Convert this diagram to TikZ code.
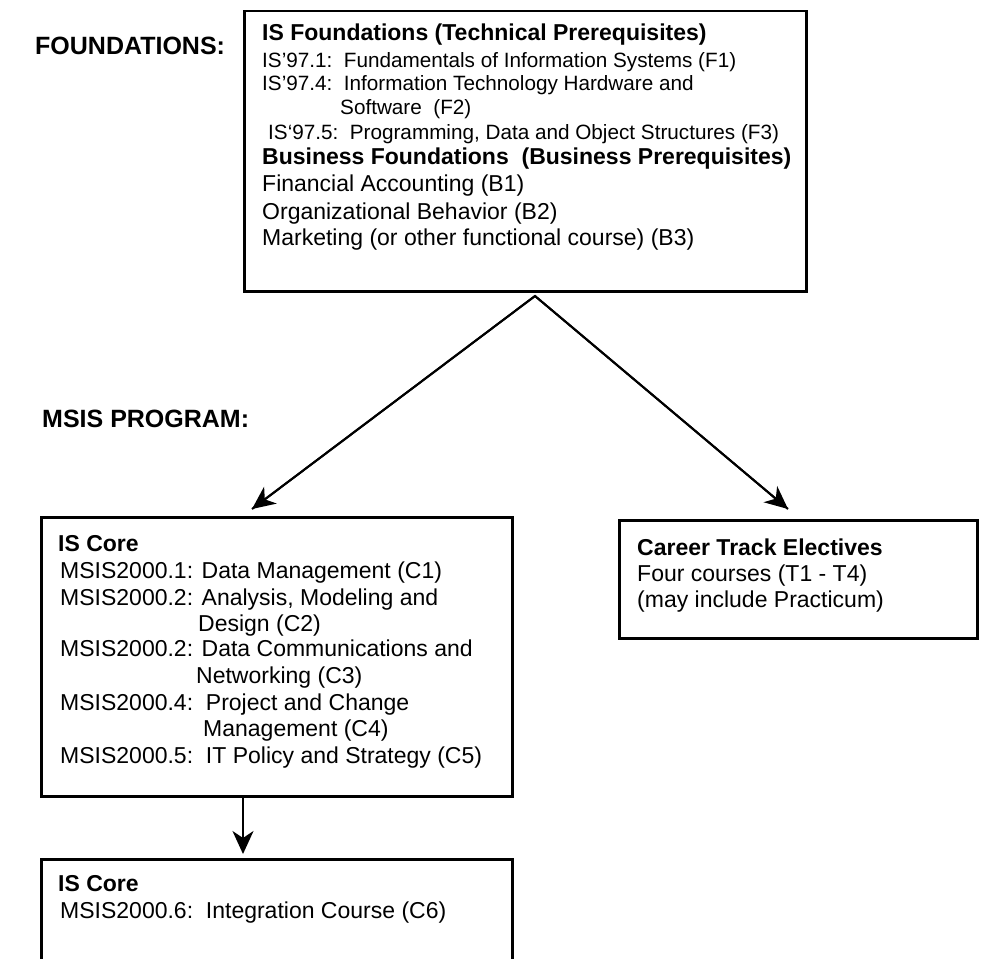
\documentclass[tikz,border=0pt]{standalone}
\usepackage{fontspec}
\setmainfont{Liberation Sans}
\usetikzlibrary{arrows.meta}
\begin{document}
\begin{tikzpicture}[x=1pt,y=-1pt,
  box/.style={draw, line width=2.5pt, inner sep=0pt, anchor=north west},
  txt/.style={anchor=base west, inner sep=0pt, font=\fontsize{23}{27}\selectfont},
  sm/.style={anchor=base west, inner sep=0pt, font=\fontsize{20.7}{24}\selectfont},
  hd/.style={anchor=base west, inner sep=0pt, font=\fontsize{23}{27}\selectfont\bfseries},
  lbl/.style={anchor=base west, inner sep=0pt, font=\fontsize{25}{30}\selectfont\bfseries},
  arr/.style={line width=2pt, -{Stealth[length=23pt,width=21pt,inset=7pt]}}]
\useasboundingbox (0,0) rectangle (981,958);

% boxes
\node[box, minimum width=562pt, minimum height=280pt] (found) at (243,10) {};
\node[box, minimum width=471pt, minimum height=279pt] (core) at (40,516) {};
\node[box, minimum width=358pt, minimum height=118pt] (career) at (618,519) {};
\node[box, minimum width=471pt, minimum height=150pt] (core6) at (40,858) {};

% side labels
\node[lbl] (lf) at (35,54) {FOUNDATIONS:};
\node[lbl] (lm) at (42,427) {MSIS PROGRAM:};

% foundations text
\node[hd] (f0) at (262,41) {IS Foundations (Technical Prerequisites)};
\node[sm] (f1) at (262,67.5) {IS’97.1:\ \ Fundamentals of Information Systems (F1)};
\node[sm] (f2) at (262,90.5) {IS’97.4:\ \ Information Technology Hardware and};
\node[sm] (f2b) at (340,114.5) {Software\ \ (F2)};
\node[sm] (f3) at (268,139.5) {IS‘97.5:\ \ Programming, Data and Object Structures (F3)};
\node[hd] (b0) at (262,164) {Business Foundations\ \ (Business Prerequisites)};
\node[txt] (b1) at (262,191) {Financial Accounting (B1)};
\node[txt] (b2) at (262,219) {Organizational Behavior (B2)};
\node[txt] (b3) at (262,245) {Marketing (or other functional course) (B3)};

% IS core text
\node[hd] (c0) at (58,551) {IS Core};
\node[txt] (c1) at (60,578) {MSIS2000.1: Data Management (C1)};
\node[txt] (c2) at (60,605) {MSIS2000.2: Analysis, Modeling and};
\node[txt] (c2b) at (198,631) {Design (C2)};
\node[txt] (c3) at (60,656) {MSIS2000.2: Data Communications and};
\node[txt] (c3b) at (196,683) {Networking (C3)};
\node[txt] (c4) at (60,710) {MSIS2000.4:\ \ Project and Change};
\node[txt] (c4b) at (203,736) {Management (C4)};
\node[txt] (c5) at (60,763) {MSIS2000.5:\ \ IT Policy and Strategy (C5)};

% career text
\node[hd] (t0) at (637,555) {Career Track Electives};
\node[txt] (t1) at (637,581) {Four courses (T1 - T4)};
\node[txt] (t2) at (637,607) {(may include Practicum)};

% IS core 6 text
\node[hd] (d0) at (58,891) {IS Core};
\node[txt] (d1) at (60,918) {MSIS2000.6:\ \ Integration Course (C6)};

% connectors
\coordinate (apex) at (535,296);
\coordinate (tipL) at (252,509);
\coordinate (tipR) at (788,509);
\draw[line width=2pt, line join=miter] (tipL) -- (apex) -- (tipR);
\draw[arr] (apex) -- (tipL);
\draw[arr] (apex) -- (tipR);
\coordinate (downA) at (core.south -| 243,0);
\coordinate (downB) at (243,854);
\draw[arr] (downA) -- (downB);
\end{tikzpicture}
\end{document}
